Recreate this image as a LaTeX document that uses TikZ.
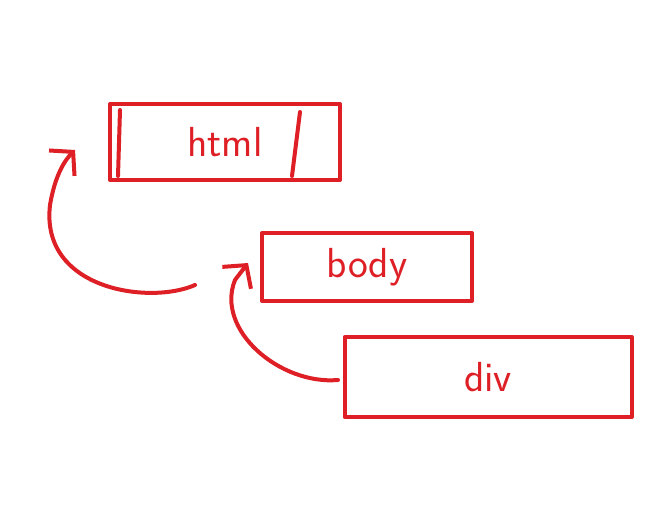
\documentclass[tikz,border=0pt]{standalone}
\usetikzlibrary{arrows.meta}
\definecolor{ink}{RGB}{222,32,38}
\begin{document}
\begin{tikzpicture}[x=1pt,y=-1pt,
  box/.style={draw=ink,line width=4pt,text=ink,font=\sffamily\fontsize{42}{42}\selectfont,inner sep=0pt,line join=round},
  conn/.style={draw=ink,line width=4pt,line cap=round,-{Straight Barb[length=16pt,width=36pt,line width=4pt]}}]
\useasboundingbox[fill=white] (0,0) rectangle (664,516);
\node[box,minimum width=230pt,minimum height=76pt] (html) at (225,142) {html};
\node[box,minimum width=210pt,minimum height=68pt] (body) at (367,267) {body};
\node[box,minimum width=287pt,minimum height=80pt] (div) at (488,377) {div};
\draw[ink,line width=4pt,line cap=round] (120,110) -- (118,176) (300,112) -- (292,176);
\coordinate (a1) at (195,285);
\coordinate (a2) at (75,150);
\draw[conn] (a1) .. controls (150,305) and (40,290) .. (50,205) .. controls (55,175) and (65,160) .. (a2);
\coordinate (b1) at (338,380);
\coordinate (b2) at (248,263);
\draw[conn] (b1) .. controls (280,385) and (215,330) .. (235,280) -- (b2);
\end{tikzpicture}
\end{document}
